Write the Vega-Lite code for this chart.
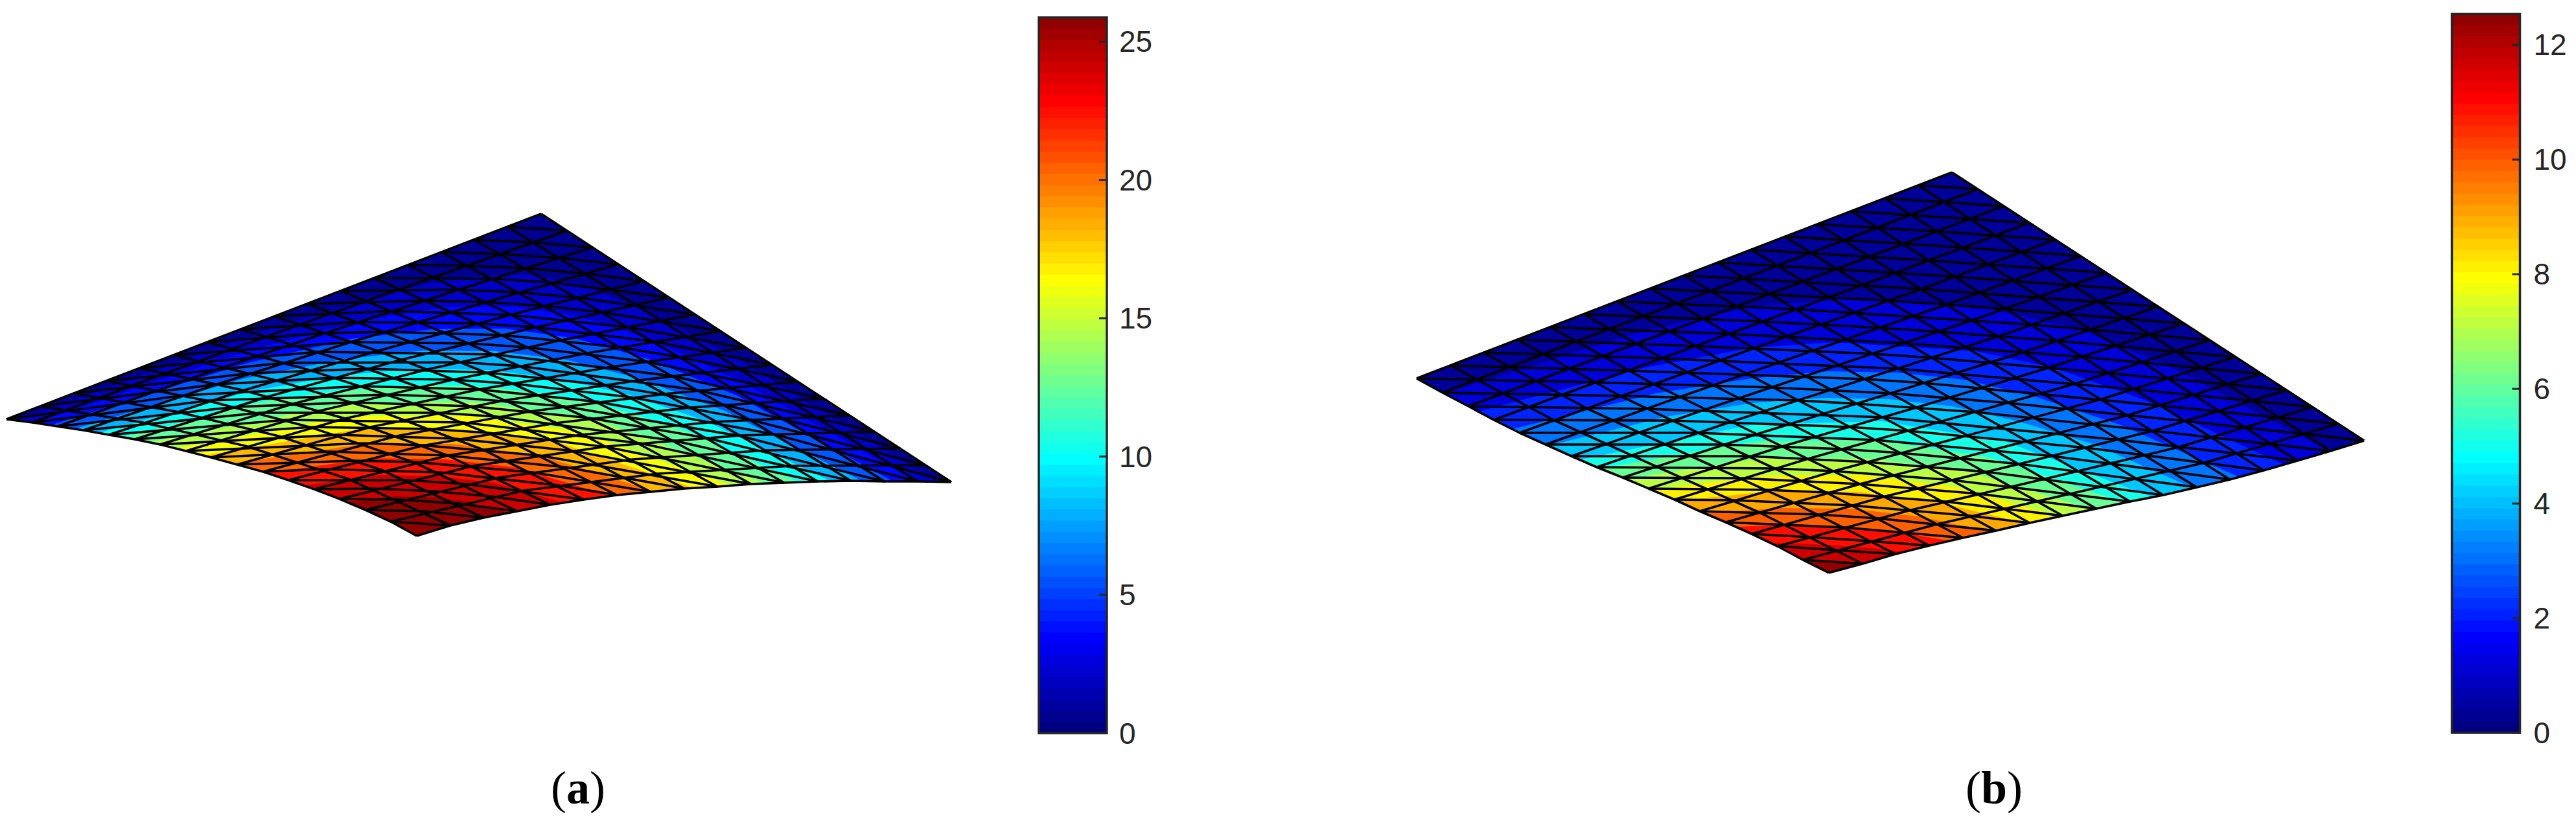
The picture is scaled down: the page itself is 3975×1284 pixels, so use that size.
{"$schema":"https://vega.github.io/schema/vega-lite/v6.json","width":3975,"height":1284,"padding":0,"autosize":"none","background":"white","config":{"view":{"stroke":null}},"projection":{"type":"identity","scale":1,"translate":[0,0]},"datasets":{"bar":[{"t":0},{"t":0.0156},{"t":0.0313},{"t":0.0469},{"t":0.0625},{"t":0.0781},{"t":0.0938},{"t":0.1094},{"t":0.125},{"t":0.1406},{"t":0.1563},{"t":0.1719},{"t":0.1875},{"t":0.2031},{"t":0.2188},{"t":0.2344},{"t":0.25},{"t":0.2656},{"t":0.2813},{"t":0.2969},{"t":0.3125},{"t":0.3281},{"t":0.3438},{"t":0.3594},{"t":0.375},{"t":0.3906},{"t":0.4063},{"t":0.4219},{"t":0.4375},{"t":0.4531},{"t":0.4688},{"t":0.4844},{"t":0.5},{"t":0.5156},{"t":0.5313},{"t":0.5469},{"t":0.5625},{"t":0.5781},{"t":0.5938},{"t":0.6094},{"t":0.625},{"t":0.6406},{"t":0.6563},{"t":0.6719},{"t":0.6875},{"t":0.7031},{"t":0.7188},{"t":0.7344},{"t":0.75},{"t":0.7656},{"t":0.7813},{"t":0.7969},{"t":0.8125},{"t":0.8281},{"t":0.8438},{"t":0.8594},{"t":0.875},{"t":0.8906},{"t":0.9063},{"t":0.9219},{"t":0.9375},{"t":0.9531},{"t":0.9688},{"t":0.9844}]},"resolve":{"scale":{"x":"independent","y":"independent","color":"independent"}},"layer":[
{"data":{"values":[
{"type":"Polygon","v":0.4,"coordinates":[[[835,330],[10,647],[10,1000],[1468,1000],[1468,744],[835,330]]]},
{"type":"Polygon","v":1.8,"coordinates":[[[27,649],[422,506],[600,451],[717,427],[808,423],[895,439],[995,478],[1138,554],[1446,744],[1446,1000],[27,1000],[27,649]]]},
{"type":"Polygon","v":3.4,"coordinates":[[[52,653],[389,539],[558,495],[685,474],[792,473],[894,488],[1006,525],[1147,590],[1413,743],[1413,1000],[52,1000],[52,653]]]},
{"type":"Polygon","v":5.4,"coordinates":[[[79,656],[379,561],[541,523],[668,508],[779,507],[887,522],[1000,554],[1138,611],[1378,743],[1378,1000],[79,1000],[79,656]]]},
{"type":"Polygon","v":7.8,"coordinates":[[[115,662],[377,584],[530,554],[654,541],[765,542],[873,555],[986,584],[1118,634],[1331,743],[1331,1000],[115,1000],[115,662]]]},
{"type":"Polygon","v":10,"coordinates":[[[152,668],[386,604],[527,579],[644,569],[753,571],[858,584],[967,608],[1090,650],[1283,743],[1283,1000],[152,1000],[152,668]]]},
{"type":"Polygon","v":12.2,"coordinates":[[[190,675],[398,621],[529,602],[639,594],[741,596],[841,607],[944,629],[1060,665],[1233,744],[1233,1000],[190,1000],[190,675]]]},
{"type":"Polygon","v":14.2,"coordinates":[[[230,683],[531,623],[730,620],[921,648],[1181,746],[1181,1000],[230,1000],[230,683]]]},
{"type":"Polygon","v":16,"coordinates":[[[271,692],[540,642],[720,641],[894,666],[1127,749],[1127,1000],[271,1000],[271,692]]]},
{"type":"Polygon","v":18,"coordinates":[[[316,703],[549,663],[709,663],[865,684],[1070,753],[1070,1000],[316,1000],[316,703]]]},
{"type":"Polygon","v":20,"coordinates":[[[362,715],[560,685],[699,685],[834,703],[1009,758],[1009,1000],[362,1000],[362,715]]]},
{"type":"Polygon","v":22.2,"coordinates":[[[413,730],[574,707],[688,709],[800,722],[943,766],[943,1000],[413,1000],[413,730]]]},
{"type":"Polygon","v":24,"coordinates":[[[469,749],[589,733],[676,735],[762,745],[870,776],[870,1000],[469,1000],[469,749]]]},
{"type":"Polygon","v":25.5,"coordinates":[[[535,775],[609,766],[663,767],[716,773],[783,791],[783,1000],[535,1000],[535,775]]]}
]},"mark":{"type":"geoshape","strokeWidth":0},"encoding":{"color":{"field":"v","type":"quantitative","legend":null,"scale":{"domain":[0,3.23,9.7,16.17,22.64,25.87],"range":["#000080","#0000ff","#00ffff","#ffff00","#ff0000","#800000"],"interpolate":"rgb"}}}},
{"data":{"values":[
{"type":"Polygon","v":0.3,"coordinates":[[[3012,266],[2186,584],[2186,1000],[3648,1000],[3648,680],[3012,266]]]},
{"type":"Polygon","v":1.1,"coordinates":[[[2229,607],[2532,512],[2704,473],[2840,462],[2959,465],[3076,478],[3202,506],[3348,565],[3593,696],[3593,1000],[2229,1000],[2229,607]]]},
{"type":"Polygon","v":2,"coordinates":[[[2281,635],[2540,567],[2701,537],[2831,528],[2939,535],[3049,542],[3168,567],[3309,617],[3524,717],[3524,1000],[2281,1000],[2281,635]]]},
{"type":"Polygon","v":3,"coordinates":[[[2334,662],[2555,607],[2702,584],[2821,573],[2928,575],[3031,586],[3140,612],[3270,655],[3455,736],[3455,1000],[2334,1000],[2334,662]]]},
{"type":"Polygon","v":4,"coordinates":[[[2388,688],[2571,643],[2704,622],[2814,614],[2914,616],[3012,627],[3114,650],[3232,686],[3386,754],[3386,1000],[2388,1000],[2388,688]]]},
{"type":"Polygon","v":5,"coordinates":[[[2435,710],[2706,655],[2903,650],[3091,680],[3324,768],[3324,1000],[2435,1000],[2435,710]]]},
{"type":"Polygon","v":6,"coordinates":[[[2470,723],[2712,681],[2893,679],[3066,705],[3280,776],[3280,1000],[2470,1000],[2470,723]]]},
{"type":"Polygon","v":7,"coordinates":[[[2509,739],[2720,707],[2883,708],[3041,728],[3228,787],[3228,1000],[2509,1000],[2509,739]]]},
{"type":"Polygon","v":8,"coordinates":[[[2548,756],[2725,734],[2874,733],[3018,752],[3178,797],[3178,1000],[2548,1000],[2548,756]]]},
{"type":"Polygon","v":8.9,"coordinates":[[[2589,773],[2735,758],[2865,759],[2992,775],[3125,808],[3125,1000],[2589,1000],[2589,773]]]},
{"type":"Polygon","v":9.8,"coordinates":[[[2631,792],[2749,784],[2856,785],[2961,797],[3070,821],[3070,1000],[2631,1000],[2631,792]]]},
{"type":"Polygon","v":10.8,"coordinates":[[[2678,813],[2761,810],[2847,813],[2930,821],[3010,835],[3010,1000],[2678,1000],[2678,813]]]},
{"type":"Polygon","v":11.6,"coordinates":[[[2730,838],[2782,839],[2837,842],[2890,846],[2941,852],[2941,1000],[2730,1000],[2730,838]]]},
{"type":"Polygon","v":12.3,"coordinates":[[[2783,864],[2805,866],[2828,867],[2851,868],[2873,870],[2873,1000],[2783,1000],[2783,864]]]}
]},"mark":{"type":"geoshape","strokeWidth":0},"encoding":{"color":{"field":"v","type":"quantitative","legend":null,"scale":{"domain":[0,1.57,4.7,7.84,10.97,12.54],"range":["#000080","#0000ff","#00ffff","#ffff00","#ff0000","#800000"],"interpolate":"rgb"}}}},
{"data":{"values":[
{"type":"Polygon","coordinates":[[[0,647],[10,647],[50,652],[89,658],[129,664],[168,671],[208,678],[247,686],[287,696],[326,706],[366,717],[406,728],[445,741],[485,755],[524,770],[564,787],[603,805],[643,827],[695,811],[746,799],[798,789],[849,779],[901,771],[952,764],[1004,759],[1056,754],[1107,751],[1159,747],[1210,745],[1262,743],[1313,742],[1365,743],[1416,743],[1468,744],[1480,744],[1480,1010],[0,1010],[0,647]]]},
{"type":"Polygon","coordinates":[[[2176,584],[2186,584],[2226,606],[2266,627],[2305,648],[2345,668],[2385,686],[2425,704],[2464,721],[2504,737],[2544,754],[2584,771],[2623,789],[2663,806],[2703,824],[2743,843],[2782,864],[2822,884],[2874,870],[2925,855],[2977,842],[3029,830],[3080,819],[3132,807],[3183,796],[3235,785],[3287,774],[3338,764],[3390,752],[3441,740],[3493,726],[3545,711],[3596,696],[3648,680],[3660,680],[3660,1010],[2176,1010],[2176,584]]]}
]},"mark":{"type":"geoshape","fill":"white","strokeWidth":0},"encoding":{}},
{"data":{"values":[
{"type":"MultiLineString","coordinates":[[[835,330],[1468,744]],[[783,350],[941,446],[1100,544],[1258,643],[1416,743]],[[732,370],[890,460],[1048,551],[1207,645],[1365,743]],[[680,389],[838,472],[997,558],[1155,647],[1313,742]],[[629,409],[787,485],[946,565],[1104,650],[1262,743]],[[577,429],[735,499],[894,574],[1052,655],[1210,745]],[[526,449],[684,513],[842,583],[1001,660],[1159,747]],[[474,469],[632,527],[791,592],[949,665],[1107,751]],[[423,488],[581,541],[740,601],[898,670],[1056,754]],[[371,508],[529,556],[688,612],[846,677],[1004,759]],[[319,528],[477,571],[636,622],[794,685],[952,764]],[[268,548],[426,587],[585,634],[743,693],[901,771]],[[216,568],[374,602],[533,646],[691,703],[849,779]],[[165,588],[323,619],[481,660],[640,714],[798,789]],[[113,607],[271,635],[430,673],[588,725],[746,799]],[[62,627],[220,652],[378,688],[537,739],[695,811]],[[10,647],[50,652],[89,658],[129,664],[168,671],[208,678],[247,686],[287,696],[326,706],[366,717],[406,728],[445,741],[485,755],[524,770],[564,787],[603,805],[643,827]]]},
{"type":"MultiLineString","coordinates":[[[835,330],[10,647]],[[875,356],[669,428],[462,501],[256,576],[50,652]],[[914,382],[708,447],[502,514],[295,584],[89,658]],[[954,408],[748,467],[541,528],[335,593],[129,664]],[[993,434],[787,486],[581,542],[374,603],[168,671]],[[1033,459],[827,505],[620,555],[414,612],[208,678]],[[1072,485],[866,525],[660,570],[453,623],[247,686]],[[1112,511],[906,545],[699,586],[493,634],[287,696]],[[1151,537],[945,566],[739,601],[532,646],[326,706]],[[1191,563],[985,587],[778,618],[572,659],[366,717]],[[1231,589],[1025,608],[818,635],[612,673],[406,728]],[[1270,615],[1064,629],[857,653],[651,688],[445,741]],[[1310,641],[1104,651],[897,671],[691,703],[485,755]],[[1349,666],[1143,672],[936,689],[730,719],[524,770]],[[1389,692],[1183,695],[976,709],[770,737],[564,787]],[[1428,718],[1222,719],[1015,731],[809,757],[603,805]],[[1468,744],[1416,743],[1365,743],[1313,742],[1262,743],[1210,745],[1159,747],[1107,751],[1056,754],[1004,759],[952,764],[901,771],[849,779],[798,789],[746,799],[695,811],[643,827]]]},
{"type":"MultiLineString","coordinates":[[[783,350],[875,356]],[[732,370],[823,374],[914,382]],[[680,389],[772,392],[862,398],[954,408]],[[629,409],[720,410],[811,414],[902,422],[993,434]],[[577,429],[759,430],[851,436],[1033,459]],[[526,449],[708,447],[799,451],[890,459],[1072,485]],[[474,469],[656,464],[748,466],[838,472],[930,482],[1112,511]],[[423,488],[605,480],[787,486],[969,505],[1151,537]],[[371,508],[553,497],[735,499],[827,505],[1009,527],[1191,563]],[[319,528],[502,514],[593,512],[775,517],[957,536],[1048,551],[1231,589]],[[268,548],[541,528],[724,530],[814,536],[997,558],[1270,615]],[[216,568],[490,543],[763,547],[1036,580],[1310,641]],[[165,588],[438,560],[711,559],[803,565],[1076,602],[1349,666]],[[113,607],[387,576],[569,569],[751,575],[933,594],[1115,624],[1389,692]],[[62,627],[335,593],[517,583],[700,586],[791,592],[973,613],[1155,647],[1428,718]],[[10,647],[284,610],[556,596],[739,601],[922,620],[1194,670],[1468,744]],[[50,652],[323,618],[596,609],[688,612],[870,627],[1143,673],[1416,743]],[[89,658],[363,628],[545,621],[727,627],[909,645],[1091,676],[1365,743]],[[129,664],[402,637],[675,637],[767,643],[1040,680],[1313,742]],[[168,671],[442,648],[715,652],[988,684],[1262,743]],[[208,678],[481,659],[664,662],[754,668],[937,690],[1210,745]],[[247,686],[521,671],[703,677],[885,696],[1159,747]],[[287,696],[561,684],[651,687],[833,703],[1107,751]],[[326,706],[509,697],[691,703],[873,721],[1056,754]],[[366,717],[548,711],[640,713],[822,729],[1004,759]],[[406,728],[497,724],[679,729],[861,749],[952,764]],[[445,741],[627,741],[719,747],[901,771]],[[485,755],[576,754],[667,758],[758,766],[849,779]],[[524,770],[616,771],[706,777],[798,789]],[[564,787],[655,789],[746,799]],[[603,805],[695,811]]]},
{"type":"MultiLineString","coordinates":[[[3012,266],[3648,680]],[[2960,286],[3119,389],[3278,491],[3437,593],[3596,696]],[[2909,306],[3068,408],[3227,509],[3386,610],[3545,711]],[[2857,326],[3016,427],[3175,527],[3334,626],[3493,726]],[[2805,346],[2964,446],[3123,544],[3282,641],[3441,740]],[[2754,365],[2913,464],[3072,559],[3231,655],[3390,752]],[[2702,385],[2861,482],[3020,575],[3179,668],[3338,764]],[[2651,405],[2810,501],[2969,591],[3128,681],[3287,774]],[[2599,425],[2758,519],[2917,607],[3076,694],[3235,785]],[[2547,445],[2706,537],[2865,623],[3024,707],[3183,796]],[[2496,465],[2655,556],[2814,638],[2973,720],[3132,807]],[[2444,485],[2603,574],[2762,654],[2921,733],[3080,819]],[[2393,505],[2552,593],[2711,670],[2870,747],[3029,830]],[[2341,524],[2500,611],[2659,686],[2818,760],[2977,842]],[[2289,544],[2448,630],[2607,703],[2766,775],[2925,855]],[[2238,564],[2397,648],[2556,720],[2715,791],[2874,870]],[[2186,584],[2226,606],[2266,627],[2305,648],[2345,668],[2385,686],[2425,704],[2464,721],[2504,737],[2544,754],[2584,771],[2623,789],[2663,806],[2703,824],[2743,843],[2782,864],[2822,884]]]},
{"type":"MultiLineString","coordinates":[[[3012,266],[2186,584]],[[3052,292],[2845,371],[2639,449],[2432,527],[2226,606]],[[3092,318],[2885,396],[2679,473],[2472,550],[2266,627]],[[3131,344],[2925,421],[2718,497],[2512,572],[2305,648]],[[3171,370],[2965,446],[2758,519],[2552,593],[2345,668]],[[3211,395],[3004,470],[2798,541],[2591,613],[2385,686]],[[3251,421],[3044,494],[2838,563],[2631,632],[2425,704]],[[3290,447],[3084,519],[2877,585],[2671,651],[2464,721]],[[3330,473],[3124,543],[2917,607],[2711,670],[2504,737]],[[3370,499],[3163,567],[2957,629],[2750,689],[2544,754]],[[3410,525],[3203,592],[2997,650],[2790,708],[2584,771]],[[3449,551],[3243,616],[3036,672],[2830,727],[2623,789]],[[3489,577],[3283,641],[3076,694],[2870,747],[2663,806]],[[3529,602],[3322,665],[3116,716],[2909,766],[2703,824]],[[3569,628],[3362,690],[3156,739],[2949,787],[2743,843]],[[3608,654],[3402,714],[3195,762],[2989,809],[2782,864]],[[3648,680],[3596,696],[3545,711],[3493,726],[3441,740],[3390,752],[3338,764],[3287,774],[3235,785],[3183,796],[3132,807],[3080,819],[3029,830],[2977,842],[2925,855],[2874,870],[2822,884]]]},
{"type":"MultiLineString","coordinates":[[[2960,286],[3052,292]],[[2909,306],[3092,318]],[[2857,326],[3131,344]],[[2805,346],[2988,357],[3171,370]],[[2754,365],[2937,376],[3028,382],[3211,395]],[[2702,385],[2976,402],[3251,421]],[[2651,405],[2925,421],[3016,427],[3290,447]],[[2599,425],[2965,446],[3330,473]],[[2547,445],[2913,464],[3004,470],[3370,499]],[[2496,465],[2770,477],[2953,489],[3135,501],[3410,525]],[[2444,485],[2718,496],[2901,506],[2992,512],[3175,526],[3449,551]],[[2393,505],[2666,515],[2941,530],[3215,551],[3489,577]],[[2341,524],[2615,534],[2889,546],[2980,552],[3254,576],[3529,602]],[[2289,544],[2563,553],[2929,569],[3294,601],[3569,628]],[[2238,564],[2512,572],[2877,585],[2969,591],[3334,626],[3608,654]],[[2186,584],[2460,590],[2735,598],[2917,607],[3100,622],[3374,650],[3648,680]],[[2226,606],[2500,611],[2774,618],[2865,623],[3049,636],[3323,665],[3596,696]],[[2266,627],[2540,631],[2905,644],[3271,679],[3545,711]],[[2305,648],[2580,649],[2854,659],[2945,665],[3219,691],[3493,726]],[[2345,668],[2619,668],[2894,679],[3168,704],[3441,740]],[[2385,686],[2659,686],[2842,693],[2933,699],[3116,716],[3390,752]],[[2425,704],[2699,704],[2881,713],[3064,728],[3338,764]],[[2464,721],[2739,723],[2830,727],[3013,741],[3287,774]],[[2504,737],[2687,738],[2870,747],[3053,762],[3235,785]],[[2544,754],[2726,756],[2818,760],[3001,774],[3183,796]],[[2584,771],[2675,772],[2858,780],[3040,796],[3132,807]],[[2623,789],[2806,794],[2898,800],[3080,819]],[[2663,806],[2846,814],[3029,830]],[[2703,824],[2795,829],[2885,835],[2977,842]],[[2743,843],[2834,849],[2925,855]],[[2782,864],[2874,870]]]}
]},"mark":{"type":"geoshape","filled":false,"stroke":"#000000","strokeWidth":3.6,"strokeJoin":"round"},"encoding":{}},
{"data":{"name":"bar"},"mark":{"type":"rect"},"encoding":{"x":{"datum":0,"type":"quantitative","scale":{"domain":[0,1],"range":[1603,1708]},"axis":null},"x2":{"datum":1},"y":{"field":"t","type":"quantitative","scale":{"domain":[0,1],"range":[1131.5,27]},"axis":null},"y2":{"datum":1},"color":{"field":"t","type":"quantitative","legend":null,"scale":{"domain":[0,0.125,0.375,0.625,0.875,1],"range":["#000080","#0000ff","#00ffff","#ffff00","#ff0000","#800000"],"interpolate":"rgb"}}}},
{"data":{"values":[{"n":1}]},"mark":{"type":"rect","fill":null,"stroke":"#262626","strokeWidth":3.5},"encoding":{"x":{"datum":0,"type":"quantitative","scale":{"domain":[0,1],"range":[1603,1708]},"axis":null},"x2":{"datum":1},"y":{"datum":0,"type":"quantitative","scale":{"domain":[0,1],"range":[1131.5,27]},"axis":null},"y2":{"datum":1}}},
{"data":{"values":[{"v":0},{"v":5},{"v":10},{"v":15},{"v":20},{"v":25}]},"mark":{"type":"rule","stroke":"#262626","strokeWidth":3},"encoding":{"x":{"datum":0.885,"type":"quantitative","scale":{"domain":[0,1],"range":[1603,1708]},"axis":null},"x2":{"datum":1},"y":{"field":"v","type":"quantitative","scale":{"domain":[0,25.87],"range":[1131.5,27]},"axis":null}}},
{"data":{"values":[{"v":0},{"v":5},{"v":10},{"v":15},{"v":20},{"v":25}]},"mark":{"type":"text","align":"left","baseline":"middle","font":"Liberation Sans","fontSize":46,"fill":"#262626","dy":2},"encoding":{"x":{"datum":1.18,"type":"quantitative","scale":{"domain":[0,1],"range":[1603,1708]},"axis":null},"y":{"field":"v","type":"quantitative","scale":{"domain":[0,25.87],"range":[1131.5,27]},"axis":null},"text":{"field":"v","type":"nominal"}}},
{"data":{"name":"bar"},"mark":{"type":"rect"},"encoding":{"x":{"datum":0,"type":"quantitative","scale":{"domain":[0,1],"range":[3783.5,3888.5]},"axis":null},"x2":{"datum":1},"y":{"field":"t","type":"quantitative","scale":{"domain":[0,1],"range":[1131,21.5]},"axis":null},"y2":{"datum":1},"color":{"field":"t","type":"quantitative","legend":null,"scale":{"domain":[0,0.125,0.375,0.625,0.875,1],"range":["#000080","#0000ff","#00ffff","#ffff00","#ff0000","#800000"],"interpolate":"rgb"}}}},
{"data":{"values":[{"n":1}]},"mark":{"type":"rect","fill":null,"stroke":"#262626","strokeWidth":3.5},"encoding":{"x":{"datum":0,"type":"quantitative","scale":{"domain":[0,1],"range":[3783.5,3888.5]},"axis":null},"x2":{"datum":1},"y":{"datum":0,"type":"quantitative","scale":{"domain":[0,1],"range":[1131,21.5]},"axis":null},"y2":{"datum":1}}},
{"data":{"values":[{"v":0},{"v":2},{"v":4},{"v":6},{"v":8},{"v":10},{"v":12}]},"mark":{"type":"rule","stroke":"#262626","strokeWidth":3},"encoding":{"x":{"datum":0.885,"type":"quantitative","scale":{"domain":[0,1],"range":[3783.5,3888.5]},"axis":null},"x2":{"datum":1},"y":{"field":"v","type":"quantitative","scale":{"domain":[0,12.54],"range":[1131,21.5]},"axis":null}}},
{"data":{"values":[{"v":0},{"v":2},{"v":4},{"v":6},{"v":8},{"v":10},{"v":12}]},"mark":{"type":"text","align":"left","baseline":"middle","font":"Liberation Sans","fontSize":46,"fill":"#262626","dy":2},"encoding":{"x":{"datum":1.2,"type":"quantitative","scale":{"domain":[0,1],"range":[3783.5,3888.5]},"axis":null},"y":{"field":"v","type":"quantitative","scale":{"domain":[0,12.54],"range":[1131,21.5]},"axis":null},"text":{"field":"v","type":"nominal"}}},
{"data":{"values":[{"s":"(","px":862},{"s":")","px":922},{"s":"(","px":3045},{"s":")","px":3109}]},"mark":{"type":"text","align":"center","baseline":"middle","font":"Liberation Serif","fontSize":72,"fill":"#000000"},"encoding":{"x":{"field":"px","type":"quantitative","scale":{"domain":[0,3975],"range":[0,3975]},"axis":null},"y":{"datum":1218,"type":"quantitative","scale":{"domain":[0,1284],"range":[0,1284]},"axis":null},"text":{"field":"s","type":"nominal"}}},
{"data":{"values":[{"s":"a","px":892},{"s":"b","px":3077}]},"mark":{"type":"text","align":"center","baseline":"middle","font":"Liberation Serif","fontWeight":"bold","fontSize":72,"fill":"#000000"},"encoding":{"x":{"field":"px","type":"quantitative","scale":{"domain":[0,3975],"range":[0,3975]},"axis":null},"y":{"datum":1218,"type":"quantitative","scale":{"domain":[0,1284],"range":[0,1284]},"axis":null},"text":{"field":"s","type":"nominal"}}}
]}
